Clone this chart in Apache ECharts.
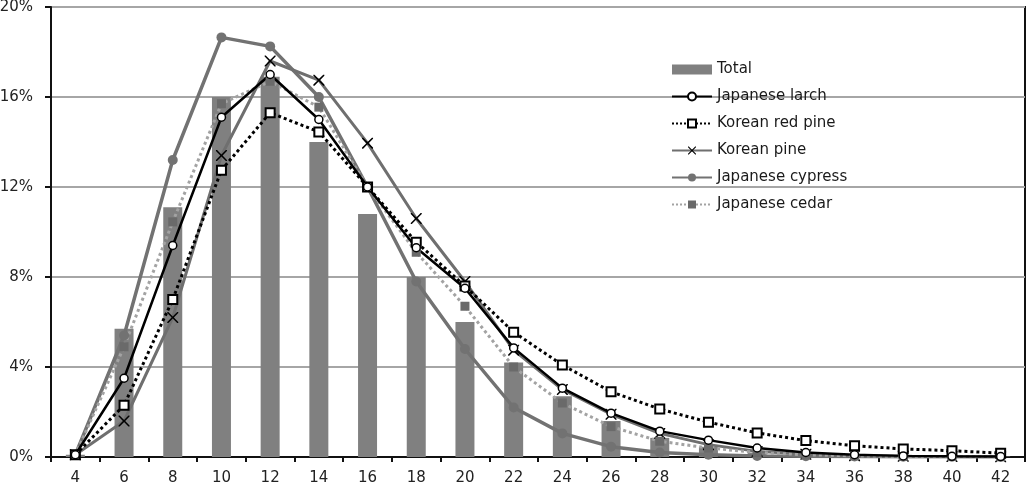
<!DOCTYPE html>
<html>
<head>
<meta charset="utf-8">
<script src="https://cdn.jsdelivr.net/npm/echarts@6/dist/echarts.min.js"></script>
<style>
html,body{margin:0;padding:0;background:#fff;}
#chart{width:1032px;height:496px;}
</style>
</head>
<body>
<div id="chart"></div>
<script>
const categories = ['4','6','8','10','12','14','16','18','20','22','24','26','28','30','32','34','36','38','40','42'];
const yTicks = [0, 4, 8, 12, 16, 20];
const total        = [0.1, 5.7, 11.1, 16.0, 16.9, 14.0, 10.8, 8.0, 6.0, 4.2, 2.7, 1.6, 0.85, 0.45, 0.2, 0.1, 0.05, 0.03, 0.02, 0.02];
const japLarch     = [0.1, 3.5, 9.4, 15.1, 17.0, 15.0, 12.0, 9.3, 7.5, 4.85, 3.06, 1.95, 1.15, 0.75, 0.4, 0.2, 0.1, 0.05, 0.03, 0.02];
const koreanRedPine= [0.1, 2.3, 7.0, 12.75, 15.3, 14.45, 12.0, 9.55, 7.6, 5.55, 4.09, 2.9, 2.13, 1.55, 1.07, 0.73, 0.5, 0.36, 0.28, 0.17];
const koreanPine   = [0.1, 1.6, 6.2, 13.4, 17.6, 16.75, 13.95, 10.6, 7.8, 4.75, 3.0, 1.9, 1.05, 0.55, 0.25, 0.12, 0.06, 0.03, 0.02, 0.01];
const japCypress   = [0.1, 5.4, 13.2, 18.65, 18.25, 16.0, 12.0, 7.8, 4.8, 2.2, 1.05, 0.46, 0.2, 0.1, 0.05, 0.03, 0.02, 0.01, 0.01, 0.01];
const japCedar     = [0.1, 4.9, 10.45, 15.7, 16.7, 15.55, 12.0, 9.1, 6.7, 4.0, 2.4, 1.35, 0.7, 0.4, 0.2, 0.1, 0.05, 0.03, 0.02, 0.01];

const FONT = 'DejaVu Sans';
const chart = echarts.init(document.getElementById('chart'));
chart.setOption({
  animation: false,
  backgroundColor: '#fff',
  grid: { left: 51, right: 7, top: 7, bottom: 39, show: true, borderColor: '#111', borderWidth: 2, outerBoundsMode: 'none', containLabel: false },
  legend: {
    orient: 'vertical', left: 666, top: 57, itemWidth: 40, itemHeight: 10, itemGap: 12,
    textStyle: { fontFamily: FONT, fontSize: 15, color: '#1a1a1a' },
    data: [{ name: 'Total', icon: 'rect' }, 'Japanese larch', 'Korean red pine', 'Korean pine', 'Japanese cypress', 'Japanese cedar']
  },
  xAxis: {
    type: 'category', data: categories, boundaryGap: true,
    axisLine: { lineStyle: { color: '#111', width: 2 } },
    axisTick: { show: true, alignWithLabel: false, length: 5, lineStyle: { color: '#111', width: 2 } },
    axisLabel: { fontFamily: FONT, fontSize: 15, color: '#222', margin: 14 }
  },
  yAxis: {
    type: 'value', min: yTicks[0], max: yTicks[yTicks.length - 1], interval: 4,
    axisLine: { show: true, lineStyle: { color: '#111', width: 2 } },
    axisTick: { show: true, length: 6, lineStyle: { color: '#111', width: 2 } },
    axisLabel: { fontFamily: FONT, fontSize: 15, color: '#222', margin: 18, formatter: '{value}%' },
    splitLine: { show: true, lineStyle: { color: '#a6a6a6', width: 2 } }
  },
  series: [
    { name: 'Total', type: 'bar', data: total, barWidth: 19, itemStyle: { color: '#808080' } },
    { name: 'Japanese cypress', type: 'line', data: japCypress, symbol: 'circle', symbolSize: 10,
      lineStyle: { color: '#727272', width: 3.5 }, itemStyle: { color: '#727272' } },
    { name: 'Korean pine', type: 'line', data: koreanPine, symbol: 'path://M0,0 L2,0 L10,8 L18,0 L20,0 L20,2 L12,10 L20,18 L20,20 L18,20 L10,12 L2,20 L0,20 L0,18 L8,10 L0,2 Z', symbolSize: 11,
      lineStyle: { color: '#6f6f6f', width: 3 }, itemStyle: { color: '#000' } },
    { name: 'Japanese cedar', type: 'line', data: japCedar, symbol: 'rect', symbolSize: 9,
      lineStyle: { color: '#a3a3a3', width: 3, type: 'dotted' }, itemStyle: { color: '#6a6a6a' } },
    { name: 'Korean red pine', type: 'line', data: koreanRedPine, symbol: 'rect', symbolSize: 9,
      lineStyle: { color: '#000', width: 3, type: 'dotted' }, itemStyle: { color: '#fff', borderColor: '#000', borderWidth: 2 } },
    { name: 'Japanese larch', type: 'line', data: japLarch, symbol: 'circle', symbolSize: 8,
      lineStyle: { color: '#000', width: 2.5 }, itemStyle: { color: '#fff', borderColor: '#000', borderWidth: 1.5 } }
  ]
});
</script>
</body>
</html>
